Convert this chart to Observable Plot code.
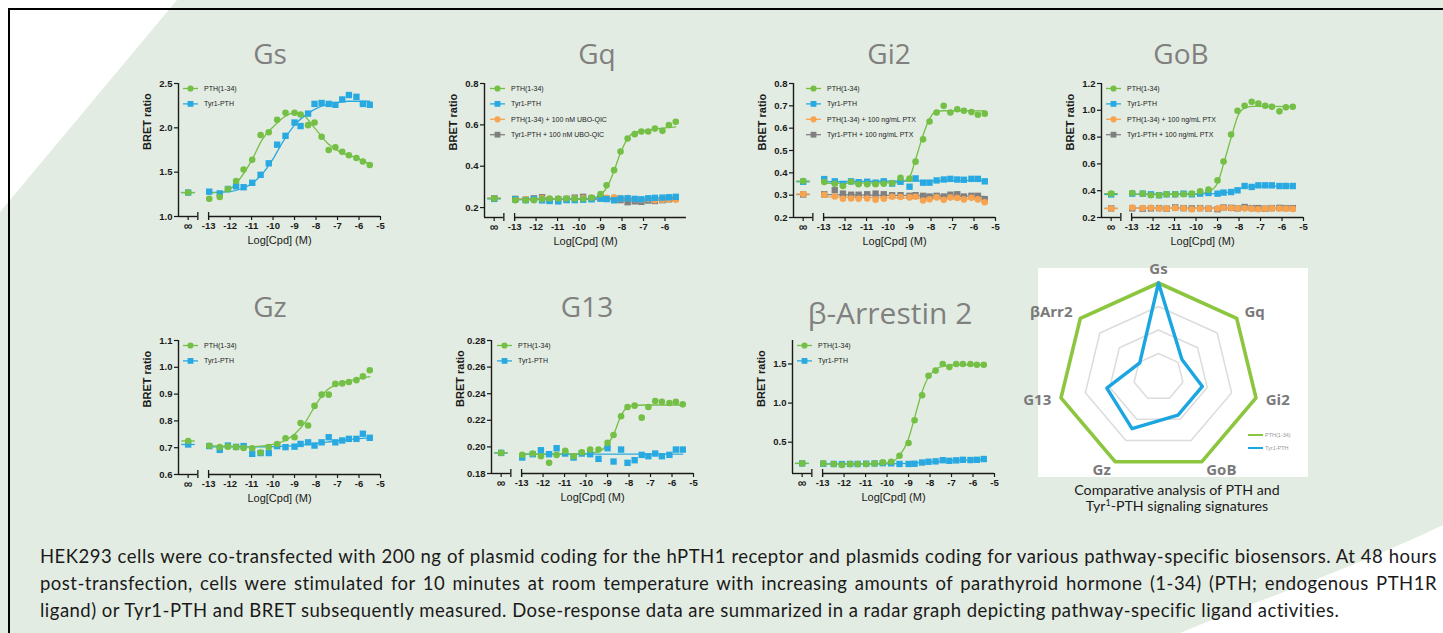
<!DOCTYPE html>
<html><head><meta charset="utf-8">
<script src="https://cdn.jsdelivr.net/npm/d3@7"></script>
<script src="https://cdn.jsdelivr.net/npm/@observablehq/plot@0.6"></script>
<style>
html,body{margin:0;padding:0;}
body{width:1443px;height:633px;overflow:hidden;position:relative;background:#e3ece2;}
.abs{position:absolute;}
</style></head>
<body>
<svg class="abs" style="left:0;top:0" width="1443" height="633">
<polygon points="0,0 177,0 0,212" fill="#fff"/>
<path d="M1443,525 C1360,565 1260,600 1180,633 L1443,633 Z" fill="#fff"/>
</svg>
<div class="abs" style="left:8px;top:8px;width:1460px;height:660px;border-top:2px solid #000;border-left:2px solid #000;"></div>
<div class="abs" style="left:1038px;top:268px;width:270px;height:209px;background:#fff;"></div>
<div id="root"></div>
<script>
// ---------- DATA ----------
const conc = [-12.97,-12.48,-12.1,-11.72,-11.37,-10.97,-10.58,-10.2,-9.81,-9.42,-9.0,-8.72,-8.37,-8.07,-7.74,-7.41,-7.1,-6.78,-6.47,-6.12,-5.82,-5.5];
const xTicksFull = [-13,-12,-11,-10,-9,-8,-7,-6,-5];
const xTicksGq = [-13,-12,-11,-10,-9,-8,-7,-6];
const infLabel = "∞";
const legendTwo = ["PTH(1-34)","Tyr1-PTH"];
const legendGq = ["PTH(1-34)","Tyr1-PTH","PTH(1-34) + 100 nM UBO-QIC","Tyr1-PTH + 100 nM UBO-QIC"];
const legendGi = ["PTH(1-34)","Tyr1-PTH","PTH(1-34) + 100 ng/mL PTX","Tyr1-PTH + 100 ng/mL PTX"];

// Gs
const gsPTH = [1.20,1.22,1.31,1.40,1.53,1.64,1.92,1.95,2.09,2.17,2.17,2.15,2.03,2.06,1.90,1.75,1.78,1.73,1.69,1.66,1.62,1.58];
const gsTyr = [1.28,1.26,1.31,1.34,1.33,1.38,1.47,1.60,1.81,1.91,2.06,2.02,2.16,2.27,2.28,2.27,2.26,2.32,2.37,2.35,2.27,2.26];
const gsInf = [1.27,1.27];
const gsPTHFit = [[-13,1.27],[-12.5,1.27],[-12,1.31],[-11.5,1.44],[-11,1.63],[-10.5,1.87],[-10,2.01],[-9.5,2.12],[-9,2.17],[-8.7,2.16],[-8.07,2.0],[-7.44,1.82],[-6.82,1.72],[-6.2,1.67],[-5.5,1.59]];
const gsTyrFit = [[-13,1.27],[-12,1.28],[-11.5,1.31],[-11,1.37],[-10.5,1.48],[-10,1.65],[-9.6,1.82],[-9.0,2.03],[-8.4,2.16],[-7.8,2.24],[-7.1,2.28],[-6.5,2.30],[-5.5,2.30]];

// Gq
const gqPTH = [0.236,0.236,0.236,0.241,0.244,0.244,0.244,0.243,0.243,0.248,0.265,0.308,0.381,0.471,0.534,0.555,0.568,0.568,0.582,0.571,0.599,0.615];
const gqTyr = [0.240,0.236,0.242,0.235,0.232,0.230,0.236,0.236,0.238,0.240,0.243,0.241,0.235,0.244,0.245,0.242,0.240,0.245,0.247,0.248,0.250,0.252];
const gqPTHUbo = [0.238,0.240,0.243,0.245,0.240,0.238,0.241,0.244,0.246,0.243,0.245,0.247,0.250,0.244,0.246,0.240,0.238,0.241,0.236,0.238,0.240,0.238];
const gqTyrUbo = [0.242,0.238,0.245,0.250,0.236,0.240,0.242,0.248,0.252,0.244,0.246,0.243,0.240,0.236,0.226,0.230,0.228,0.234,0.232,0.236,0.240,0.244];
const gqInf = [0.244,0.242,0.245,0.245];
const gqPTHFit = [[-13,0.238],[-10,0.240],[-9.4,0.245],[-9.0,0.262],[-8.69,0.30],[-8.38,0.375],[-8.07,0.465],[-7.76,0.53],[-7.45,0.562],[-6.8,0.575],[-6.2,0.583],[-5.5,0.59]];
const gqTyrFit = [[-13,0.238],[-5.5,0.248]];
const gqPTHUboFit = [[-13,0.243],[-5.5,0.241]];
const gqTyrUboFit = [[-13,0.242],[-5.5,0.236]];

// Gi2
const gi2PTH = [0.359,0.351,0.341,0.360,0.349,0.349,0.349,0.351,0.354,0.378,0.374,0.450,0.550,0.630,0.670,0.700,0.670,0.685,0.678,0.672,0.660,0.665];
const gi2Tyr = [0.372,0.362,0.350,0.362,0.358,0.360,0.356,0.362,0.352,0.360,0.338,0.375,0.356,0.356,0.366,0.370,0.373,0.370,0.369,0.373,0.373,0.362];
const gi2PTHPtx = [0.302,0.294,0.284,0.285,0.284,0.285,0.280,0.284,0.293,0.292,0.290,0.293,0.276,0.282,0.290,0.279,0.289,0.287,0.281,0.288,0.281,0.268];
const gi2TyrPtx = [0.304,0.322,0.307,0.302,0.302,0.304,0.307,0.304,0.300,0.300,0.297,0.300,0.297,0.294,0.297,0.294,0.302,0.304,0.294,0.297,0.297,0.282];
const gi2Inf = [0.363,0.360,0.305,0.303];
const gi2PTHFit = [[-13,0.353],[-9.8,0.355],[-9.3,0.362],[-9.0,0.38],[-8.75,0.45],[-8.4,0.56],[-8.1,0.636],[-7.85,0.67],[-7.45,0.678],[-5.5,0.677]];
const gi2TyrFit = [[-13,0.360],[-5.5,0.366]];
const gi2PTHPtxFit = [[-13,0.292],[-5.5,0.282]];
const gi2TyrPtxFit = [[-13,0.302],[-5.5,0.295]];

// GoB
const gobPTH = [0.383,0.378,0.366,0.366,0.373,0.373,0.373,0.378,0.396,0.408,0.477,0.618,0.819,0.997,1.034,1.064,1.051,1.034,1.027,0.992,1.022,1.027];
const gobTyr = [0.378,0.378,0.373,0.366,0.373,0.373,0.378,0.373,0.378,0.383,0.378,0.386,0.390,0.403,0.435,0.428,0.440,0.440,0.440,0.435,0.435,0.435];
const gobPTHPtx = [0.275,0.270,0.272,0.268,0.266,0.270,0.268,0.262,0.268,0.266,0.268,0.272,0.270,0.268,0.268,0.266,0.262,0.266,0.268,0.266,0.266,0.264];
const gobTyrPtx = [0.268,0.266,0.268,0.270,0.266,0.275,0.270,0.268,0.270,0.266,0.262,0.275,0.272,0.268,0.278,0.270,0.270,0.266,0.270,0.272,0.270,0.270];
const gobInf = [0.378,0.372,0.267,0.268];
const gobPTHFit = [[-13,0.372],[-10,0.375],[-9.37,0.396],[-8.98,0.465],[-8.72,0.60],[-8.36,0.80],[-8.05,0.96],[-7.73,1.017],[-7.38,1.03],[-5.5,1.027]];
const gobTyrFit = [[-13,0.374],[-9.0,0.378],[-8.5,0.39],[-8.0,0.415],[-7.5,0.432],[-5.5,0.436]];
const gobPTHPtxFit = [[-13,0.268],[-5.5,0.266]];
const gobTyrPtxFit = [[-13,0.269],[-5.5,0.270]];

// Gz
const gzPTH = [0.707,0.702,0.704,0.702,0.699,0.698,0.682,0.702,0.714,0.735,0.739,0.792,0.783,0.856,0.898,0.898,0.938,0.940,0.945,0.952,0.966,0.989];
const gzTyr = [0.706,0.692,0.708,0.703,0.706,0.677,0.680,0.680,0.706,0.702,0.704,0.714,0.720,0.708,0.720,0.739,0.720,0.727,0.733,0.733,0.752,0.737];
const gzInf = [0.725,0.712];
const gzPTHFit = [[-13,0.707],[-11,0.704],[-10,0.712],[-9.5,0.725],[-9,0.750],[-8.5,0.795],[-8,0.862],[-7.5,0.914],[-7,0.937],[-6.5,0.948],[-6,0.958],[-5.5,0.965]];
const gzTyrFit = [[-13,0.703],[-11,0.703],[-10,0.704],[-9,0.708],[-8,0.716],[-7,0.726],[-6,0.734],[-5.5,0.737]];

// G13
const g13PTH = [0.194,0.195,0.193,0.188,0.194,0.197,0.193,0.196,0.198,0.198,0.203,0.209,0.223,0.230,0.231,0.222,0.230,0.2345,0.234,0.233,0.234,0.232];
const g13Tyr = [0.192,0.1945,0.1975,0.1945,0.199,0.195,0.192,0.195,0.1945,0.191,0.199,0.189,0.198,0.188,0.190,0.194,0.193,0.195,0.193,0.194,0.198,0.198];
const g13Inf = [0.1955,0.1955];
const g13PTHFit = [[-13,0.1945],[-10,0.195],[-9.5,0.196],[-9.0,0.202],[-8.7,0.210],[-8.4,0.2225],[-8.1,0.2295],[-7.8,0.231],[-7.3,0.2315],[-5.5,0.2315]];
const g13TyrFit = [[-13,0.1945],[-5.5,0.1945]];

// beta-arrestin 2
const barrPTH = [0.229,0.220,0.208,0.220,0.220,0.220,0.229,0.242,0.250,0.326,0.490,0.780,1.100,1.350,1.415,1.500,1.460,1.500,1.500,1.500,1.490,1.490];
const barrTyr = [0.225,0.222,0.220,0.222,0.222,0.225,0.228,0.232,0.230,0.222,0.222,0.225,0.240,0.250,0.255,0.270,0.262,0.268,0.275,0.272,0.275,0.285];
const barrInf = [0.229,0.229];
const barrPTHFit = [[-13,0.22],[-10.5,0.222],[-9.8,0.245],[-9.41,0.335],[-9.06,0.50],[-8.75,0.78],[-8.44,1.085],[-8.1,1.32],[-7.79,1.42],[-7.47,1.466],[-6.8,1.49],[-5.5,1.49]];
const barrTyrFit = [[-13,0.222],[-10,0.224],[-9,0.23],[-8,0.245],[-7,0.262],[-6,0.275],[-5.5,0.278]];

// radar
const radarAxes = ["Gs","Gq","Gi2","GoB","Gz","G13","βArr2"];
const radarPTH = [1,1,1,1,1,1,1];
const radarTyr = [1.0,0.30,0.45,0.45,0.61,0.53,0.24];
const radarRings = [0.25,0.5,0.75];
const radarLegend = ["PTH(1-34)","Tyr1-PTH"];

const captionLines = [
 "HEK293 cells were co-transfected with 200 ng of plasmid coding for the hPTH1 receptor and plasmids coding for various pathway-specific biosensors. At 48 hours",
 "post-transfection, cells were stimulated for 10 minutes at room temperature with increasing amounts of parathyroid hormone (1-34) (PTH; endogenous PTH1R",
 "ligand) or Tyr1-PTH and BRET subsequently measured. Dose-response data are summarized in a radar graph depicting pathway-specific ligand activities."
];

// ---------- STYLE / LAYOUT ----------
const GREEN="#74bf45", BLUE="#29a9e1", ORANGE="#f7a350", GRAY="#808080", AX="#1a1a1a";
const AXFONT = "Arial, 'Liberation Sans', sans-serif";
const X0=-14.4, X1=-5.0, INF=-13.95, BREAK=[-13.5,-13.0], INF_SEG=[-14.25,-13.62];

function mk(names, vals, fits, infs){
  const cols=[GREEN,BLUE,ORANGE,GRAY], syms=["circle","square","circle","square"];
  return names.map((n,i)=>({name:n, values:vals[i], fit:fits[i], inf:infs[i], color:cols[i], symbol:syms[i]}));
}
const panels = [
 {title:"Gs", tx:270, ty:64, fs:28, left:178, top:83, bottom:216, yDomain:[1.0,2.5], yTicks:[1.0,1.5,2.0,2.5], digits:1, xTicks:xTicksFull, legDx:5,
  series: mk(legendTwo,[gsPTH,gsTyr],[gsPTHFit,gsTyrFit],gsInf)},
 {title:"Gq", tx:597, ty:64, fs:28, left:484, top:83, bottom:217, yDomain:[0.152,0.8], yTicks:[0.2,0.4,0.6,0.8], digits:1, xTicks:xTicksGq, legDx:6,
  series: mk(legendGq,[gqPTH,gqTyr,gqPTHUbo,gqTyrUbo],[gqPTHFit,gqTyrFit,gqPTHUboFit,gqTyrUboFit],gqInf)},
 {title:"Gi2", tx:889, ty:64, fs:28, left:793, top:83, bottom:217, yDomain:[0.2,0.8], yTicks:[0.2,0.3,0.4,0.5,0.6,0.7,0.8], digits:1, xTicks:xTicksFull, legDx:13,
  series: mk(legendGi,[gi2PTH,gi2Tyr,gi2PTHPtx,gi2TyrPtx],[gi2PTHFit,gi2TyrFit,gi2PTHPtxFit,gi2TyrPtxFit],gi2Inf)},
 {title:"GoB", tx:1181, ty:64, fs:28, left:1101, top:83, bottom:217, yDomain:[0.2,1.2], yTicks:[0.2,0.4,0.6,0.8,1.0,1.2], digits:1, xTicks:xTicksFull, legDx:5,
  series: mk(legendGi,[gobPTH,gobTyr,gobPTHPtx,gobTyrPtx],[gobPTHFit,gobTyrFit,gobPTHPtxFit,gobTyrPtxFit],gobInf)},
 {title:"Gz", tx:270, ty:317, fs:28, left:178, top:340, bottom:474, yDomain:[0.6,1.1], yTicks:[0.6,0.7,0.8,0.9,1.0,1.1], digits:1, xTicks:xTicksFull, legDx:5,
  series: mk(legendTwo,[gzPTH,gzTyr],[gzPTHFit,gzTyrFit],gzInf)},
 {title:"G13", tx:587, ty:317, fs:28, left:491, top:340, bottom:473, yDomain:[0.18,0.28], yTicks:[0.18,0.20,0.22,0.24,0.26,0.28], digits:2, xTicks:xTicksFull, legDx:6,
  series: mk(legendTwo,[g13PTH,g13Tyr],[g13PTHFit,g13TyrFit],g13Inf)},
 {title:"β-Arrestin 2", tx:890, ty:324, fs:30, left:792, top:340, bottom:473, yDomain:[0.1,1.8], yTicks:[0.5,1.0,1.5], digits:1, xTicks:xTicksFull, legDx:5,
  series: mk(legendTwo,[barrPTH,barrTyr],[barrPTHFit,barrTyrFit],barrInf)}
];

const root = document.getElementById("root");

function panel(cfg){
  const mL=48,mR=14,mT=8,mB=40,pw=202, ph=cfg.bottom-cfg.top;
  const y0 = cfg.yDomain[0];
  const order = cfg.series.slice().reverse();
  const marks = [];
  for (const s of order){
    marks.push(Plot.line(s.fit,{x:d=>d[0],y:d=>d[1],stroke:s.color,strokeWidth:1.3,curve:"monotone-x"}));
    marks.push(Plot.ruleY([s.inf],{x1:INF_SEG[0],x2:INF_SEG[1],stroke:s.color,strokeWidth:1.3}));
  }
  for (const s of order){
    const data = conc.map((x,i)=>({x, y:s.values[i]}));
    const r = s.symbol==="square"?3.6:3.3;
    marks.push(Plot.dot(data,{x:"x",y:"y",fill:s.color,r,symbol:s.symbol}));
    marks.push(Plot.dot([s.inf],{x:INF,y:d=>d,fill:s.color,r,symbol:s.symbol}));
  }
  marks.push(Plot.ruleX([X0],{stroke:AX,strokeWidth:1.4}));
  marks.push(Plot.ruleY([{a:X0,b:BREAK[0]},{a:BREAK[1],b:X1}],{y:()=>y0,x1:"a",x2:"b",stroke:AX,strokeWidth:1.4}));
  marks.push(Plot.ruleX(BREAK,{y1:y0,y2:y0,insetTop:-4,insetBottom:-4,stroke:AX,strokeWidth:1.3}));
  marks.push(Plot.axisX({ticks:cfg.xTicks,tickFormat:d=>String(d),tickSize:4,tickPadding:2,fontSize:9.5,fontWeight:"bold",fill:AX,stroke:AX,strokeWidth:1.2,label:null}));
  marks.push(Plot.axisX({ticks:[INF],tickFormat:()=>infLabel,tickSize:4,tickPadding:1,fontSize:12,fontWeight:"bold",fill:AX,stroke:AX,strokeWidth:1.2,label:null}));
  marks.push(Plot.axisY({ticks:cfg.yTicks,tickFormat:d=>d.toFixed(cfg.digits),tickSize:4,tickPadding:2,fontSize:9.5,fontWeight:"bold",fill:AX,stroke:AX,strokeWidth:1.2,label:null}));
  marks.push(Plot.text(["BRET ratio"],{frameAnchor:"left",rotate:-90,dx:-31,fontSize:11,fontWeight:"bold",fill:AX}));
  marks.push(Plot.text(["Log[Cpd] (M)"],{frameAnchor:"bottom",dy:27,fontSize:11,fill:AX}));
  const svg = Plot.plot({
    width:mL+pw+mR, height:mT+ph+mB, marginLeft:mL, marginRight:mR, marginTop:mT, marginBottom:mB,
    x:{domain:[X0,X1]}, y:{domain:cfg.yDomain},
    style:{background:"transparent",overflow:"visible",fontFamily:AXFONT,color:AX},
    marks
  });
  svg.style.position="absolute";
  svg.style.left=(cfg.left-mL)+"px";
  svg.style.top=(cfg.top-mT)+"px";
  root.appendChild(svg);
}
panels.forEach(panel);

// ---------- RADAR ----------
(function(){
  const L=1010,T=250,cx=1158-L,cy=376.5-T;
  const ang = i => i*2*Math.PI/7;
  const pt = (v,i)=>({x:v*Math.sin(ang(i)), y:v*Math.cos(ang(i))});
  const ringData = radarRings.flatMap(r=>radarAxes.map((a,i)=>({ring:r,...pt(r,i)})));
  const pth = radarPTH.map((v,i)=>pt(v,i));
  const tyr = radarTyr.map((v,i)=>pt(v,i));
  const labels = radarAxes.map((a,i)=>{const p=pt(1.1,i); const s=Math.sin(ang(i));
    return {...p, text:a, anchor: s>0.1?"start":(s<-0.1?"end":"middle")};});
  const lab = (anchor,line)=>Plot.text(labels.filter(d=>d.anchor===anchor),{x:"x",y:"y",text:"text",textAnchor:anchor,lineAnchor:line,fontSize:15,fontWeight:"bold",fill:"#7a7a7a",fontFamily:"'Open Sans',sans-serif"});
  const svg = Plot.plot({
    width:300,height:245,margin:0,
    x:{domain:[-1,1],range:[cx-100,cx+100],axis:null},
    y:{domain:[-1,1],range:[cy+94,cy-94],axis:null},
    style:{background:"transparent",overflow:"visible"},
    marks:[
      Plot.line(ringData,{x:"x",y:"y",z:"ring",curve:"linear-closed",stroke:"#dcdcdc",strokeWidth:1.5}),
      Plot.line(pth,{x:"x",y:"y",curve:"linear-closed",stroke:"#8cc63f",strokeWidth:3.6}),
      Plot.line(tyr,{x:"x",y:"y",curve:"linear-closed",stroke:"#1ba6e0",strokeWidth:3.4}),
      lab("start","middle"), lab("end","middle"), lab("middle","bottom")
    ]
  });
  svg.style.position="absolute"; svg.style.left=L+"px"; svg.style.top=T+"px";
  root.appendChild(svg);
})();

// ---------- OVERLAY TEXT (titles, legends, captions) ----------
(function(){
  const ov = d3.select(root).append("svg").attr("width",1443).attr("height",633)
    .style("position","absolute").style("left","0px").style("top","0px");
  for (const p of panels){
    ov.append("text").attr("x",p.tx).attr("y",p.ty).attr("text-anchor","middle")
      .attr("font-family","'Open Sans',sans-serif").attr("font-size",p.fs).attr("fill","#808080").text(p.title);
    p.series.forEach((s,i)=>{
      const y = p.top+5.5+i*15.4, x0 = p.left+p.legDx;
      ov.append("line").attr("x1",x0).attr("x2",x0+15).attr("y1",y).attr("y2",y).attr("stroke",s.color).attr("stroke-width",1.3);
      if (s.symbol==="circle") ov.append("circle").attr("cx",x0+7.5).attr("cy",y).attr("r",3.1).attr("fill",s.color);
      else ov.append("rect").attr("x",x0+4.6).attr("y",y-2.9).attr("width",5.8).attr("height",5.8).attr("fill",s.color);
      ov.append("text").attr("x",x0+21).attr("y",y+2.5).attr("font-family",AXFONT).attr("font-size",7).attr("fill","#222").text(s.name);
    });
  }
  [["#8cc63f",435],["#1ba6e0",448]].forEach(([c,y],i)=>{
    ov.append("line").attr("x1",1248).attr("x2",1263).attr("y1",y).attr("y2",y).attr("stroke",c).attr("stroke-width",2);
    ov.append("text").attr("x",1265).attr("y",y+2).attr("font-family",AXFONT).attr("font-size",5.5).attr("fill","#999").text(radarLegend[i]);
  });
  const rc = ov.append("text").attr("x",1177).attr("y",495).attr("text-anchor","middle").attr("font-family","Lato,sans-serif").attr("font-size",14.2).attr("fill","#1a1a1a");
  rc.text("Comparative analysis of PTH and");
  const rc2 = ov.append("text").attr("x",1177).attr("y",511).attr("text-anchor","middle").attr("font-family","Lato,sans-serif").attr("font-size",14.2).attr("fill","#1a1a1a");
  rc2.append("tspan").text("Tyr");
  rc2.append("tspan").attr("dy",-5).attr("font-size",9).text("1");
  rc2.append("tspan").attr("dy",5).text("-PTH signaling signatures");
  const bases=[563,590,617], FS=18.5;
  const nodes = captionLines.map((line,i)=>ov.append("text").attr("x",40).attr("y",bases[i])
     .attr("font-family","Lato,sans-serif").attr("font-size",FS).attr("fill","#1a1a1a").text(line));
  const w3 = nodes[2].node().getComputedTextLength();
  const ls = (1300 - w3)/captionLines[2].length;
  nodes.forEach(n=>n.attr("letter-spacing",ls));
  [0,1].forEach(i=>{
    const w = nodes[i].node().getComputedTextLength();
    const n = (captionLines[i].match(/ /g)||[]).length;
    nodes[i].attr("word-spacing",(1397-w)/n);
  });
})();
</script>
</body></html>
